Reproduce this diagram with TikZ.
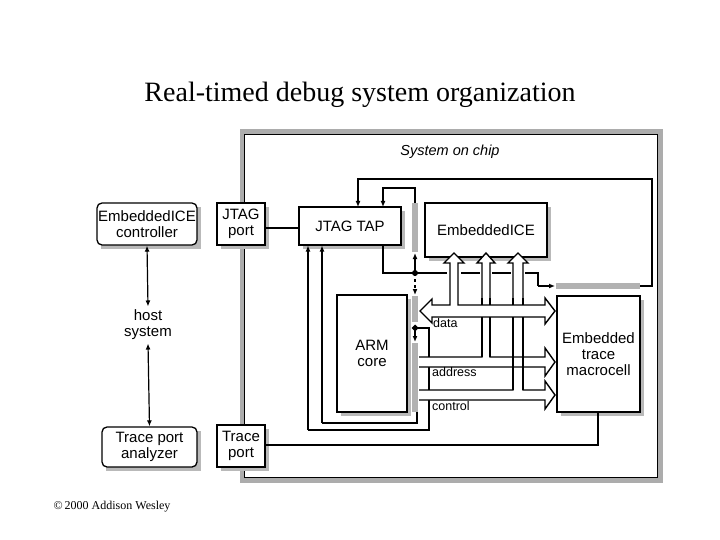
\documentclass[tikz,border=0pt]{standalone}
\usepackage{fontspec}
\setmainfont{Liberation Serif}
\newfontfamily\arialf{Liberation Sans}
\usetikzlibrary{arrows.meta}
\begin{document}
\begin{tikzpicture}[x=1pt,y=-1pt,
  box/.style={draw,line width=1.3pt,fill=white,font=\arialf\fontsize{15}{16}\selectfont,align=center,inner sep=0pt},
  shad/.style={fill=gray!55},
  bar/.style={fill=gray!60},
  ln/.style={line width=1.2pt},
  bus/.style={line width=1.4pt,fill=white,line join=miter},
  lbl/.style={font=\arialf\fontsize{12.5}{13}\selectfont,inner sep=0pt},
  ar/.style={ln,-{Latex[length=6pt,width=5pt]}}]
\useasboundingbox (0,0) rectangle (720,540);
\node (title) at (360,95) {\fontsize{28}{30}\selectfont Real-timed debug system organization};
\node (copy) at (112,507) {\fontsize{12}{13}\selectfont \textcopyright\,2000 Addison Wesley};
% chip border
\draw[line width=5pt,gray!65] (242,132) rectangle (660,480);
\draw[line width=0.6pt] (244.5,134.5) rectangle (657.5,477.5);
\node[lbl,font=\arialf\itshape\fontsize{14.5}{15}\selectfont] (soc) at (450,152) {System on chip};
% shadows
\fill[shad] (101,207) rectangle (201,249);
\fill[shad] (221,207) rectangle (269,249);
\fill[shad] (106,431) rectangle (201,471);
\fill[shad] (221,429) rectangle (269,471);
\fill[shad] (303,211) rectangle (405,249);
\fill[shad] (429,207) rectangle (551,261);
\fill[shad] (341,299) rectangle (411,416);
\fill[shad] (561,300) rectangle (644,416);
% boxes
\node[box,rounded corners=5pt,minimum width=100pt,minimum height=42pt] (eic) at (147,224) {EmbeddedICE\\controller};
\node[box,minimum width=48pt,minimum height=42pt] (jport) at (241,224) {JTAG\\port};
\node[box,rounded corners=5pt,minimum width=95pt,minimum height=40pt] (tpa) at (149.5,447) {Trace port\\analyzer};
\node[box,minimum width=48pt,minimum height=42pt] (tport) at (241,446) {Trace\\port};
\node[box,minimum width=102pt,minimum height=38pt] (tap) at (350,226) {JTAG TAP};
\node[box,minimum width=122pt,minimum height=54pt] (ice) at (486,230) {EmbeddedICE};
\node[box,minimum width=70pt,minimum height=117pt] (arm) at (372,353.5) {ARM\\core};
\node[box,minimum width=83pt,minimum height=116pt] (etm) at (598.5,354) {Embedded\\trace\\macrocell};
\node[font=\arialf\fontsize{15}{16}\selectfont,align=center] (host) at (148,325) {host\\system};
% host arrows
\draw[ar,{Latex[length=6pt,width=5pt]}-{Latex[length=6pt,width=5pt]}] (eic.south) -- (host.north);
\draw[ar,{Latex[length=6pt,width=5pt]}-{Latex[length=6pt,width=5pt]}] (host.south) -- (tpa.north);
\draw[ln] (jport.east |- 0,228) -- (tap.west |- 0,228);
% gray bars
\fill[bar] (412,203) rectangle (418,252);
\fill[bar] (412,296) rectangle (418,322);
\fill[bar] (412,343) rectangle (418,412);
\fill[bar] (556,283) rectangle (640,289);
% scan chain lines
\coordinate (dot1) at (415,273);
\coordinate (dot2) at (415,328);
\fill (dot1) circle (3pt);
\fill (dot2) +(0,-3.5) -- +(3.5,0) -- +(0,3.5) -- +(-3.5,0) -- cycle;
\draw[ln] (383,245) -- (383,273) -- (dot1);
\draw[ar] (dot1) -- (415,253);
\draw[ar,dashed] (dot1) -- (415,295);
\draw[ar] (415,203) -- (415,188) -- (383,188) -- (383,207);
\draw[ln] (dot1) -- (447,273);
\draw[ln] (461,273) -- (480,273);
\draw[ln] (492,273) -- (511,273);
\draw[ln] (525,273) -- (538,273) -- (538,286);
\draw[ar] (538,286) -- (555,286);
\draw[ar] (640,286) -- (652,286) -- (652,179) -- (358,179) -- (358,207);
\draw[ar] (308,430) -- (429,430) -- (429,328) -- (dot2) -- (415,342);
\draw[ln] (dot2) -- (418,328);
\draw[ar] (308,430) -- (308,245.5);
\draw[ar] (322,423) -- (322,245.5);
\draw[ln] (322,423) -- (417,423) -- (417,412);
% buses
\draw[bus] (419,390) -- (513,390) -- (513,263) -- (508,263) -- (518,253) -- (528,263) -- (523,263) -- (523,390) -- (545,390) -- (545,381) -- (555,395) -- (545,409) -- (545,400) -- (419,400);
\draw[bus] (419,357) -- (482,357) -- (482,263) -- (477,263) -- (486,253) -- (495,263) -- (490,263) -- (490,357) -- (545,357) -- (545,348) -- (555,362) -- (545,376) -- (545,367) -- (419,367);
\draw[bus] (420,311) -- (432,299) -- (432,305) -- (450,305) -- (450,263) -- (444,263) -- (454,253) -- (464,263) -- (458,263) -- (458,305) -- (545,305) -- (545,298) -- (555,311) -- (545,324) -- (545,317) -- (432,317) -- (432,323) -- cycle;
\draw[ln] (482,317) -- (482,357) (490,317) -- (490,357) (513,317) -- (513,390) (523,317) -- (523,390);
\draw[ln] (482,305) -- (482,298) (490,305) -- (490,298) (513,305) -- (513,298) (523,305) -- (523,298);
\node[lbl,anchor=west] (ldata) at (433,323) {data};
\node[lbl,anchor=west] (laddr) at (432,372) {address};
\node[lbl,anchor=west] (lctrl) at (432,406) {control};
% trace
\draw[ln] (tport.east |- 0,445) -- (598,445) -- (598,412);
\end{tikzpicture}
\end{document}
